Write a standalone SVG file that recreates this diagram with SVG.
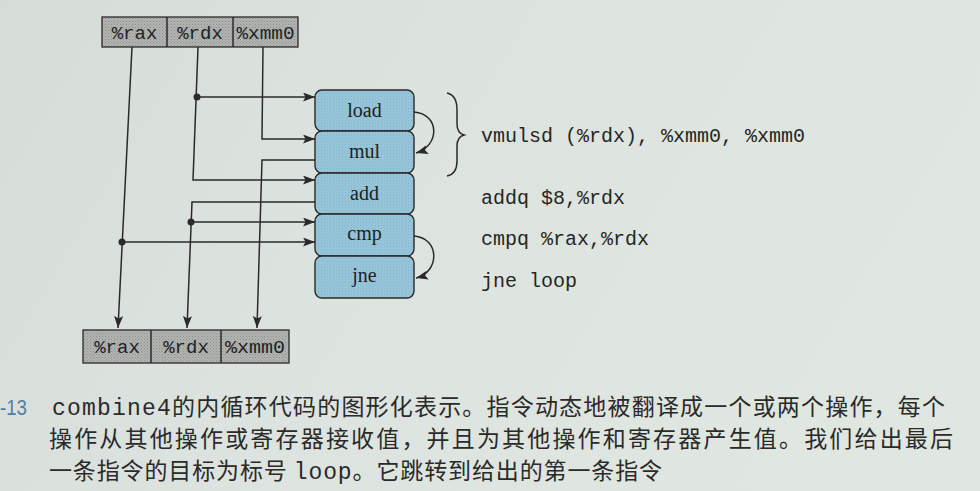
<svg xmlns="http://www.w3.org/2000/svg" width="980" height="491" viewBox="0 0 980 491">
<defs>
<linearGradient id="bg" x1="0" y1="0" x2="1" y2="0.3">
<stop offset="0" stop-color="#d6dcd8"/>
<stop offset="0.5" stop-color="#dde3de"/>
<stop offset="1" stop-color="#e0e6e0"/>
</linearGradient>
<pattern id="stip" width="3" height="3" patternUnits="userSpaceOnUse">
<rect width="3" height="3" fill="#b0b3b0"/>
<rect width="1" height="1" fill="#8e918e"/>
<rect x="1.5" y="1.5" width="1" height="1" fill="#9a9d9a"/>
</pattern>
<pattern id="blue" width="3" height="3" patternUnits="userSpaceOnUse">
<rect width="3" height="3" fill="#98c6da"/>
<rect width="1" height="1" fill="#7fb2c9"/>
<rect x="1.5" y="1.5" width="1" height="1" fill="#88b9cf"/>
</pattern>
<marker id="ah" markerWidth="13" markerHeight="10" refX="12" refY="4.5" orient="auto" markerUnits="userSpaceOnUse">
<path d="M0,0 L12,4.5 L0,9 L2.5,4.5 z" fill="#2a2a2a"/>
</marker>
</defs>
<style>
.reg{fill:url(#stip);stroke:#2a2a2a;stroke-width:1.3}
.rt{font-family:"Liberation Mono","DejaVu Sans Mono",monospace;font-size:19px;fill:#222;text-anchor:middle}
.op{fill:url(#blue);stroke:#2a2a2a;stroke-width:1.4}
.ot{font-family:"Liberation Serif","DejaVu Serif",serif;font-size:20px;fill:#1e1e1e;text-anchor:middle}
.ln{fill:none;stroke:#2a2a2a;stroke-width:1.5}
.code{font-family:"Liberation Mono","DejaVu Sans Mono",monospace;font-size:20px;fill:#262626}
.cap{font-family:"Noto Sans CJK SC","Noto Sans",sans-serif;font-size:23px;fill:#2a2a2a}
.mono{font-family:"Liberation Mono",monospace}
</style>
<rect width="980" height="491" fill="url(#bg)"/>

<g id="regs-top">
<rect class="reg" x="102" y="17" width="196" height="30"/>
<line class="ln" x1="167" y1="17" x2="167" y2="47"/>
<line class="ln" x1="233" y1="17" x2="233" y2="47"/>
<text class="rt" x="134.5" y="39">%rax</text>
<text class="rt" x="200" y="39">%rdx</text>
<text class="rt" x="265.5" y="39" textLength="58" lengthAdjust="spacingAndGlyphs">%xmm0</text>
</g>

<g id="regs-bottom">
<rect class="reg" x="83" y="330" width="206" height="33"/>
<line class="ln" x1="151" y1="330" x2="151" y2="363"/>
<line class="ln" x1="221" y1="330" x2="221" y2="363"/>
<text class="rt" x="117" y="353">%rax</text>
<text class="rt" x="186" y="353">%rdx</text>
<text class="rt" x="255" y="353" textLength="60" lengthAdjust="spacingAndGlyphs">%xmm0</text>
</g>

<g id="load"><rect class="op" x="315" y="90" width="99" height="41" rx="7"/><text class="ot" x="364.5" y="117">load</text></g>
<g id="mul"><rect class="op" x="315" y="131" width="99" height="42" rx="7"/><text class="ot" x="364.5" y="158">mul</text></g>
<g id="add"><rect class="op" x="315" y="173" width="99" height="41" rx="7"/><text class="ot" x="364.5" y="200">add</text></g>
<g id="cmp"><rect class="op" x="315" y="214" width="99" height="42" rx="7"/><text class="ot" x="364.5" y="240">cmp</text></g>
<g id="jne"><rect class="op" x="315" y="256" width="99" height="42" rx="7"/><text class="ot" x="364.5" y="282">jne</text></g>

<g id="connectors">
<path class="ln" d="M132,47 L118,328" marker-end="url(#ah)"/>
<path class="ln" d="M198,47 L193,180 L315,180" marker-end="url(#ah)"/>
<path class="ln" d="M197,97 L315,97" marker-end="url(#ah)"/>
<path class="ln" d="M263,47 L262,139 L315,139" marker-end="url(#ah)"/>
<path class="ln" d="M315,160 L262,160 L257,328" marker-end="url(#ah)"/>
<path class="ln" d="M315,202 L192,202 L187,328" marker-end="url(#ah)"/>
<path class="ln" d="M191,222 L315,222" marker-end="url(#ah)"/>
<path class="ln" d="M122,242 L315,242" marker-end="url(#ah)"/>
<path class="ln" d="M414,112 C440,114 440,146 416,153" marker-end="url(#ah)"/>
<path class="ln" d="M414,236 C440,238 440,272 416,278" marker-end="url(#ah)"/>
<circle cx="197" cy="97" r="3.5" fill="#2a2a2a"/>
<circle cx="191" cy="222" r="3.5" fill="#2a2a2a"/>
<circle cx="122" cy="242" r="3.5" fill="#2a2a2a"/>
</g>

<g id="code">
<path d="M447,93 Q457,95 457,110 L457,124 Q457,133 464,135 Q457,137 457,146 L457,161 Q457,174 447,176" fill="none" stroke="#2a2a2a" stroke-width="1.5"/>
<text class="code" x="481" y="142">vmulsd (%rdx), %xmm0, %xmm0</text>
<text class="code" x="481" y="204">addq $8,%rdx</text>
<text class="code" x="481" y="245">cmpq %rax,%rdx</text>
<text class="code" x="481" y="287">jne loop</text>
</g>

<g id="caption">
<text x="0" y="415" font-family="'Liberation Sans Narrow','Liberation Sans',sans-serif" font-size="22" fill="#4f809f" textLength="27" lengthAdjust="spacingAndGlyphs">-13</text>
<text class="cap" x="52" y="415" textLength="893" lengthAdjust="spacing"><tspan class="mono">combine4</tspan>的内循环代码的图形化表示。指令动态地被翻译成一个或两个操作，每个</text>
<text class="cap" x="49" y="447" textLength="904" lengthAdjust="spacing">操作从其他操作或寄存器接收值，并且为其他操作和寄存器产生值。我们给出最后</text>
<text class="cap" x="49" y="479" textLength="613" lengthAdjust="spacing">一条指令的目标为标号 <tspan class="mono">loop</tspan>。它跳转到给出的第一条指令</text>
</g>
</svg>
